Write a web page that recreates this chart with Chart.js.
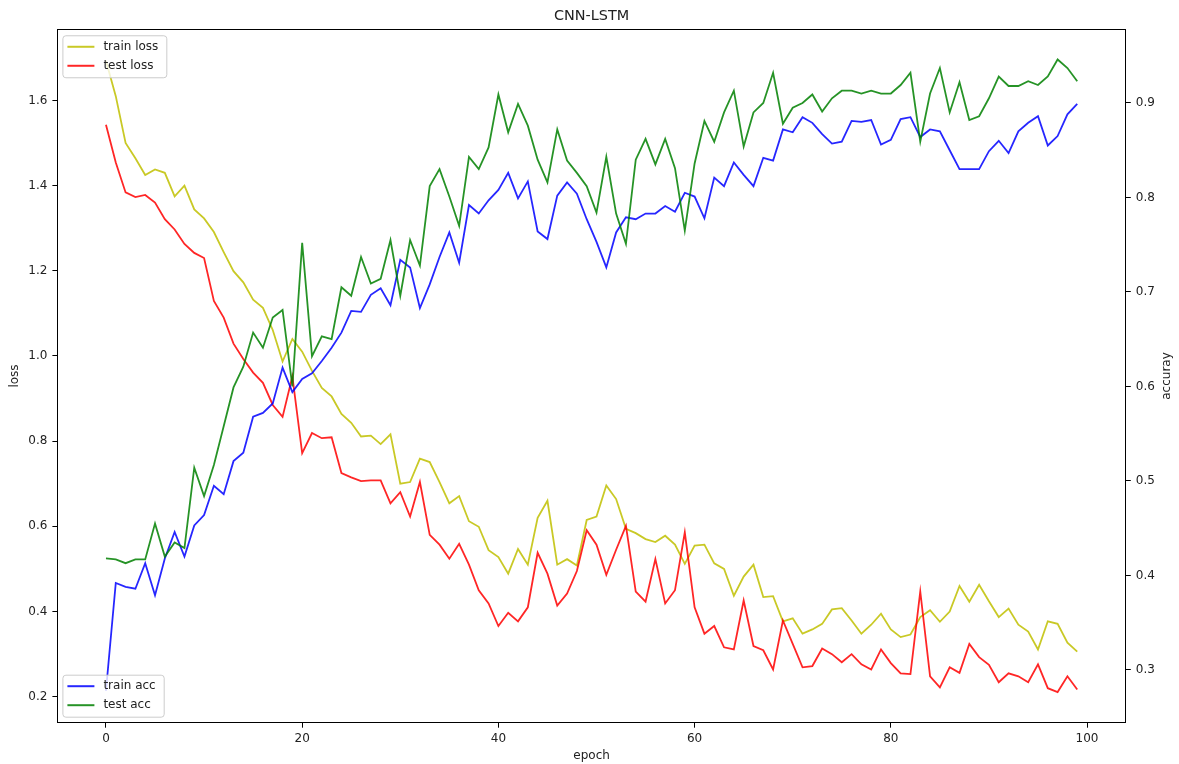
<!DOCTYPE html>
<html>
<head>
<meta charset="utf-8">
<script src="https://cdn.jsdelivr.net/npm/chart.js@4.4.1/dist/chart.umd.min.js"></script>
<style>
  html, body { margin: 0; padding: 0; background: #fff; overflow: hidden; }
  #canvas-row-container { width: 1179px; height: 764px; }
</style>
</head>
<body>
<div id="canvas-row-container"><canvas id="graphCanvas" width="1179" height="764"></canvas></div>
<script>
// Datos
const epochs = Array.from({ length: 100 }, (_, i) => i);

const trainLoss = [
  1.693, 1.61, 1.50, 1.464, 1.425, 1.438, 1.43, 1.375, 1.40, 1.344,
  1.323, 1.291, 1.244, 1.199, 1.173, 1.132, 1.113, 1.061, 0.987, 1.04,
  1.01, 0.965, 0.925, 0.905, 0.864, 0.843, 0.811, 0.813, 0.793, 0.816,
  0.70, 0.704, 0.759, 0.751, 0.704, 0.654, 0.671, 0.612, 0.599, 0.544,
  0.528, 0.489, 0.547, 0.510, 0.620, 0.660, 0.510, 0.523, 0.508, 0.615,
  0.623, 0.696, 0.664, 0.594, 0.584, 0.570, 0.563, 0.578, 0.557, 0.512,
  0.555, 0.557, 0.513, 0.500, 0.437, 0.482, 0.510, 0.434, 0.436, 0.377,
  0.384, 0.348, 0.358, 0.371, 0.405, 0.408, 0.379, 0.348, 0.369, 0.395,
  0.358, 0.340, 0.346, 0.387, 0.403, 0.376, 0.400, 0.460, 0.423, 0.463,
  0.424, 0.387, 0.407, 0.369, 0.353, 0.311, 0.377, 0.371, 0.327, 0.306
];

const testLoss = [
  1.543, 1.454, 1.384, 1.373, 1.378, 1.36, 1.321, 1.297, 1.263, 1.242,
  1.230, 1.129, 1.09, 1.029, 0.993, 0.961, 0.937, 0.885, 0.857, 0.952,
  0.772, 0.819, 0.807, 0.809, 0.725, 0.715, 0.706, 0.708, 0.708, 0.654,
  0.680, 0.623, 0.704, 0.58, 0.557, 0.524, 0.559, 0.51, 0.450, 0.419,
  0.366, 0.397, 0.377, 0.410, 0.538, 0.489, 0.414, 0.442, 0.495, 0.591,
  0.557, 0.486, 0.545, 0.601, 0.447, 0.423, 0.523, 0.419, 0.450, 0.586,
  0.410, 0.348, 0.366, 0.316, 0.311, 0.426, 0.319, 0.309, 0.264, 0.379,
  0.324, 0.269, 0.272, 0.313, 0.300, 0.281, 0.300, 0.276, 0.264, 0.311,
  0.279, 0.255, 0.253, 0.447, 0.248, 0.222, 0.269, 0.256, 0.324, 0.293,
  0.275, 0.234, 0.255, 0.248, 0.234, 0.276, 0.220, 0.211, 0.248, 0.217
];

const trainAcc = [
  0.278, 0.392, 0.388, 0.386, 0.413, 0.379, 0.418, 0.446, 0.420, 0.453,
  0.464, 0.495, 0.486, 0.521, 0.530, 0.568, 0.572, 0.582, 0.620, 0.594,
  0.608, 0.614, 0.627, 0.641, 0.657, 0.680, 0.679, 0.697, 0.704, 0.686,
  0.734, 0.726, 0.683, 0.708, 0.737, 0.763, 0.731, 0.792, 0.783, 0.797,
  0.808, 0.826, 0.799, 0.817, 0.764, 0.756, 0.802, 0.816, 0.804, 0.777,
  0.753, 0.726, 0.763, 0.779, 0.777, 0.783, 0.783, 0.791, 0.785, 0.805,
  0.801, 0.778, 0.821, 0.812, 0.837, 0.824, 0.812, 0.842, 0.839, 0.872,
  0.869, 0.885, 0.879, 0.867, 0.857, 0.859, 0.881, 0.880, 0.882, 0.856,
  0.861, 0.883, 0.885, 0.864, 0.872, 0.870, 0.850, 0.830, 0.830, 0.830,
  0.849, 0.860, 0.847, 0.870, 0.879, 0.886, 0.855, 0.865, 0.888, 0.899
];

const testAcc = [
  0.418, 0.417, 0.413, 0.417, 0.417, 0.455, 0.420, 0.435, 0.429, 0.514,
  0.484, 0.517, 0.558, 0.599, 0.621, 0.657, 0.641, 0.673, 0.681, 0.600,
  0.752, 0.632, 0.653, 0.650, 0.705, 0.696, 0.737, 0.709, 0.714, 0.755,
  0.696, 0.755, 0.728, 0.812, 0.830, 0.801, 0.770, 0.843, 0.830, 0.853,
  0.909, 0.869, 0.899, 0.876, 0.840, 0.816, 0.872, 0.839, 0.826, 0.812,
  0.784, 0.843, 0.783, 0.751, 0.840, 0.862, 0.835, 0.862, 0.831, 0.765,
  0.836, 0.881, 0.859, 0.890, 0.913, 0.854, 0.890, 0.900, 0.932, 0.878,
  0.895, 0.900, 0.909, 0.891, 0.905, 0.913, 0.913, 0.910, 0.913, 0.910,
  0.910, 0.919, 0.932, 0.859, 0.910, 0.937, 0.890, 0.922, 0.882, 0.886,
  0.905, 0.928, 0.918, 0.918, 0.923, 0.919, 0.928, 0.946, 0.937, 0.923
];

const xTicks = [0, 20, 40, 60, 80, 100];
const lossTicks = [0.2, 0.4, 0.6, 0.8, 1.0, 1.2, 1.4, 1.6];
const accTicks = [0.3, 0.4, 0.5, 0.6, 0.7, 0.8, 0.9];

const chartTitle = "CNN-LSTM";
const xLabel = "epoch";
const lossLabel = "loss";
const accLabel = "accuray";

const FUENTE = "'DejaVu Sans', sans-serif";
const COLOR_TEXTO = "#222";

function aPuntos(valores) {
  return valores.map((v, i) => ({ x: epochs[i], y: v }));
}

// Leyenda estilo matplotlib (una por eje)
function dibujarLeyenda(chart, ejeId, x, yRef, desdeAbajo) {
  const ctx = chart.ctx;
  const items = chart.data.datasets.filter((d) => d.yAxisID === ejeId);
  ctx.font = "12px " + FUENTE;
  const anchoTexto = Math.max(...items.map((d) => ctx.measureText(d.label).width));
  const fila = 19;
  const alto = items.length * fila + 4;
  const ancho = 5 + 27 + 9 + anchoTexto + 8;
  const y = desdeAbajo ? yRef - alto : yRef;

  ctx.beginPath();
  ctx.roundRect(x + 0.5, y + 0.5, ancho, alto, 3);
  ctx.fillStyle = "rgba(255,255,255,0.8)";
  ctx.fill();
  ctx.strokeStyle = "#cccccc";
  ctx.lineWidth = 1;
  ctx.stroke();

  items.forEach((d, i) => {
    const cy = y + 11.5 + i * fila;
    ctx.beginPath();
    ctx.moveTo(x + 5, cy);
    ctx.lineTo(x + 32, cy);
    ctx.strokeStyle = d.borderColor;
    ctx.lineWidth = 2;
    ctx.stroke();
    ctx.fillStyle = COLOR_TEXTO;
    ctx.textAlign = "left";
    ctx.textBaseline = "middle";
    ctx.fillText(d.label, x + 41, cy);
  });
}

const marcoYLeyendas = {
  id: "marcoYLeyendas",
  afterDatasetsDraw(chart) {
    const { ctx, chartArea: a } = chart;
    ctx.save();
    // Marco completo del área
    ctx.strokeStyle = "#000";
    ctx.lineWidth = 1;
    ctx.strokeRect(
      Math.round(a.left) + 0.5,
      Math.round(a.top) + 0.5,
      Math.round(a.right - a.left),
      Math.round(a.bottom - a.top)
    );

    dibujarLeyenda(chart, "y", a.left + 5, a.top + 6, false);
    dibujarLeyenda(chart, "y1", a.left + 5, a.bottom - 6, true);

    // Título del eje derecho (se lee de abajo hacia arriba, como en matplotlib)
    ctx.font = "12px " + FUENTE;
    ctx.fillStyle = COLOR_TEXTO;
    ctx.textAlign = "center";
    ctx.textBaseline = "middle";
    ctx.translate(1167, (a.top + a.bottom) / 2);
    ctx.rotate(-Math.PI / 2);
    ctx.fillText(accLabel, 0, 0);
    ctx.restore();
  },
};

const comun = { borderWidth: 1.8, pointRadius: 0, tension: 0, fill: false };

const datasets = [
  { ...comun, label: "train loss", data: aPuntos(trainLoss), yAxisID: "y", borderColor: "rgba(191,191,0,0.85)", order: 4 },
  { ...comun, label: "test loss", data: aPuntos(testLoss), yAxisID: "y", borderColor: "rgba(255,0,0,0.85)", order: 3 },
  { ...comun, label: "train acc", data: aPuntos(trainAcc), yAxisID: "y1", borderColor: "rgba(0,0,255,0.85)", order: 2 },
  { ...comun, label: "test acc", data: aPuntos(testAcc), yAxisID: "y1", borderColor: "rgba(0,128,0,0.85)", order: 1 },
];

const rejilla = { drawOnChartArea: false, tickLength: 5, color: "#000", tickColor: "#000", lineWidth: 1 };
const fuenteTicks = { family: FUENTE, size: 12 };

const chartData = {
  type: "line",
  data: { datasets },
  options: {
    responsive: false,
    animation: false,
    devicePixelRatio: 1,
    layout: { padding: 0 },
    plugins: {
      legend: { display: false },
      tooltip: { enabled: false },
      title: {
        display: true,
        text: chartTitle,
        fullSize: false,
        color: COLOR_TEXTO,
        font: { family: FUENTE, size: 14.4, weight: "normal" },
        padding: { top: 7.5, bottom: 4.5 },
      },
    },
    scales: {
      x: {
        type: "linear",
        position: "bottom",
        min: -4.95,
        max: 103.95,
        afterBuildTicks: (s) => { s.ticks = xTicks.map((v) => ({ value: v })); },
        afterFit: (s) => { s.height = 41.3; },
        grid: rejilla,
        border: { display: false },
        ticks: { padding: 4, color: COLOR_TEXTO, font: fuenteTicks, maxRotation: 0, callback: (v) => String(v) },
        title: { display: true, text: xLabel, color: COLOR_TEXTO, font: fuenteTicks, padding: { top: 0, bottom: 1 } },
      },
      y: {
        type: "linear",
        position: "left",
        min: 0.139,
        max: 1.767,
        afterBuildTicks: (s) => { s.ticks = lossTicks.map((v) => ({ value: v })); },
        afterFit: (s) => { s.width = 57.4; },
        grid: rejilla,
        border: { display: false },
        ticks: { padding: 5, color: COLOR_TEXTO, font: fuenteTicks, callback: (v) => v.toFixed(1) },
        title: { display: true, text: lossLabel, color: COLOR_TEXTO, font: fuenteTicks, padding: { top: 8, bottom: 0 } },
      },
      y1: {
        type: "linear",
        position: "right",
        min: 0.2442,
        max: 0.978,
        afterBuildTicks: (s) => { s.ticks = accTicks.map((v) => ({ value: v })); },
        afterFit: (s) => { s.width = 53.2; },
        grid: rejilla,
        border: { display: false },
        ticks: { padding: 5, color: COLOR_TEXTO, font: fuenteTicks, callback: (v) => v.toFixed(1) },
        title: { display: false },
      },
    },
  },
  plugins: [marcoYLeyendas],
};

const myChart = new Chart(document.getElementById("graphCanvas").getContext("2d"), chartData);
</script>
</body>
</html>
